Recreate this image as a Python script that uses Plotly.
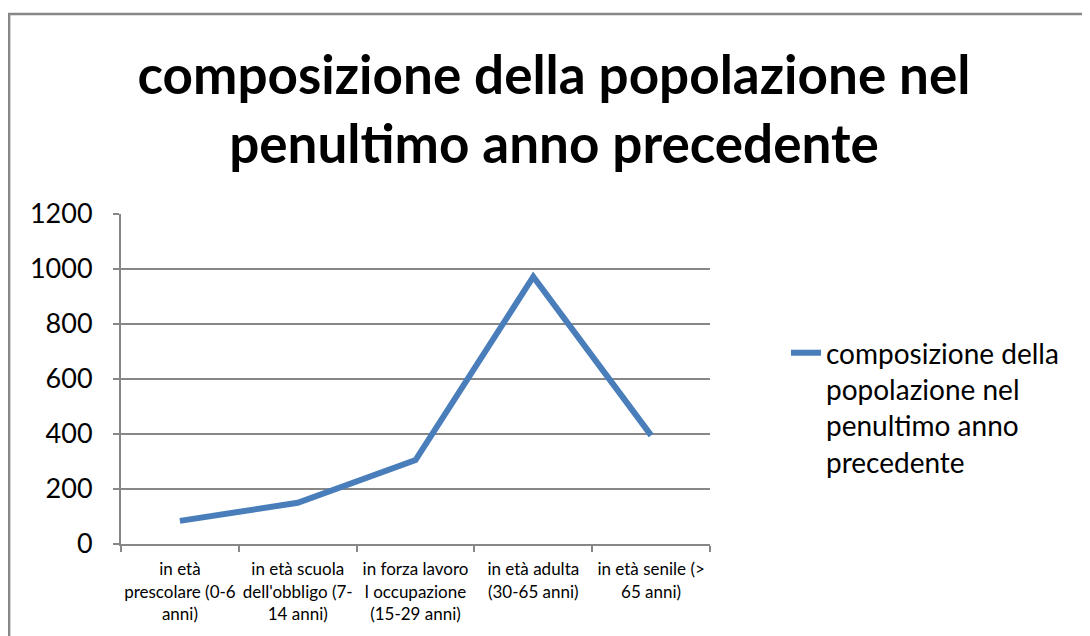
import plotly.graph_objects as go

categories = [
    "in età<br>prescolare (0-6<br>anni)",
    "in età scuola<br>dell'obbligo (7-<br>14 anni)",
    "in forza lavoro<br>l occupazione<br>(15-29 anni)",
    "in età adulta<br>(30-65 anni)",
    "in età senile (><br>65 anni)",
]
values = [84, 150, 305, 972, 395]
series_name = "composizione della<br>popolazione nel<br>penultimo anno<br>precedente"
title_text = "composizione della popolazione nel<br>penultimo anno precedente"
y_ticks = [0, 200, 400, 600, 800, 1000, 1200]

FONT = "Lato"
GRAY = "#878787"

fig = go.Figure()
fig.add_trace(go.Scatter(
    x=categories, y=values, mode="lines", name=series_name,
    line=dict(color="#4A7EBB", width=6),
))

fig.update_layout(
    width=1082, height=628,
    margin=dict(l=113, r=380, t=206, b=92),
    paper_bgcolor="white", plot_bgcolor="white",
    font=dict(family=FONT, color="black"),
    title=dict(
        text="<b>" + title_text + "</b>",
        font=dict(family=FONT, size=53, color="black"),
        x=0.5046, xref="container", xanchor="center",
        y=0.863, yref="container", yanchor="middle",
    ),
    showlegend=True,
    legend=dict(
        x=1.129, xanchor="left", y=0.6545, yanchor="top",
        font=dict(family=FONT, size=28, color="black"),
        valign="top", bgcolor="rgba(0,0,0,0)",
    ),
    shapes=[dict(
        type="rect", xref="paper", yref="paper",
        x0=-0.19, x1=2.0, y0=-1.0, y1=1.606,
        line=dict(color=GRAY, width=2.5), fillcolor="rgba(0,0,0,0)",
        layer="below",
    )],
)

fig.update_xaxes(
    type="category", range=[-0.5, 4.5],
    showline=True, linecolor=GRAY, linewidth=2,
    ticks="outside", tickson="boundaries", ticklen=6, tickcolor=GRAY, tickwidth=2,
    showgrid=False,
    tickfont=dict(family=FONT, size=17, color="black"),
    tickangle=0,
    ticklabelstandoff=9,
)
fig.update_yaxes(
    range=[0, 1200], tickvals=y_ticks,
    showline=True, linecolor=GRAY, linewidth=2,
    ticks="outside", ticklen=6, tickcolor=GRAY, tickwidth=2,
    showgrid=True, gridcolor=GRAY, gridwidth=2,
    zeroline=False,
    tickfont=dict(family=FONT, size=27, color="black"),
    ticklabelstandoff=15,
)

fig.write_html("out.html")
